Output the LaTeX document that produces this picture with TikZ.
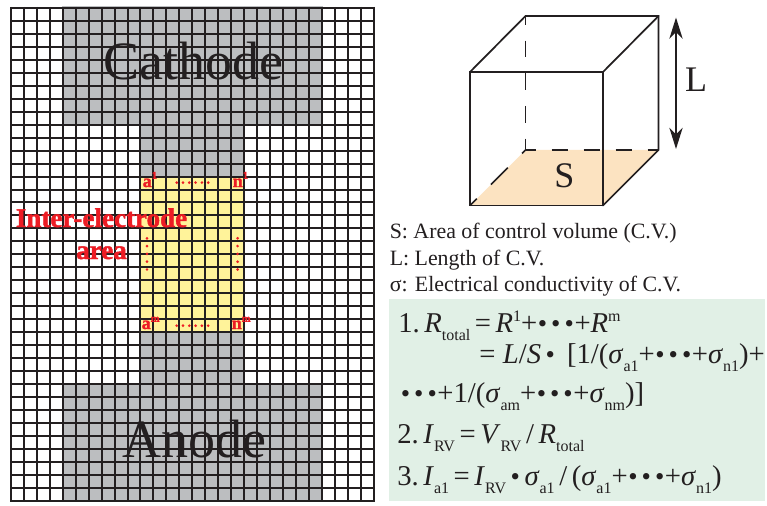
\documentclass[tikz,border=0pt]{standalone}
\usepackage{fontspec}
\setmainfont{Liberation Serif}
\newfontface\heavyface[FakeBold=1.6]{Liberation Serif Bold}
\usetikzlibrary{arrows.meta}
\definecolor{ink}{HTML}{231F20}
\definecolor{elec}{HTML}{BCBEC0}
\definecolor{gapfill}{HTML}{FFF39A}
\definecolor{redt}{HTML}{ED1C24}
\definecolor{sfill}{HTML}{FCE3C1}
\definecolor{panel}{HTML}{E1F0E6}
\newcommand{\fs}[1]{\fontsize{#1}{#1}\selectfont}
\newcommand{\lowsub}[1]{\raisebox{-0.3em}{\fontsize{12}{12}\selectfont\upshape #1}}
\newcommand{\upper}[1]{\raisebox{0.37em}{\fontsize{12}{12}\selectfont\upshape #1}}
\newcommand{\dotbit}{\raisebox{0em}{\fontsize{20}{20}\selectfont\textbullet}}
\newcommand{\tdots}{\hspace{0.02em}\dotbit\hspace{0.14em}\dotbit\hspace{0.14em}\dotbit\hspace{0.02em}}
\newcommand{\tgt}{\hspace{0.16em}}
\tikzset{
 gridline/.style={ink,line width=1.5pt},
 cube/.style={ink,line width=1.3pt,line cap=round},
 cubedash/.style={ink,line width=1.3pt},
 big/.style={text=ink,font=\fs{40.5},inner sep=0pt,anchor=base},
 tag/.style={text=redt,font=\heavyface\fs{13.5},inner sep=0pt,anchor=base west},
 red title/.style={text=redt,font=\heavyface\fs{20.3},inner sep=0pt,anchor=base},
 info/.style={text=ink,font=\fs{16.4},inner sep=0pt,anchor=base west},
 eq/.style={text=ink,font=\fs{21.5},inner sep=0pt,anchor=base west},
 reddot/.style={fill=redt,draw=none,circle,minimum size=2.2pt,inner sep=0pt},
}
\begin{document}
\begin{tikzpicture}[x=0.75pt,y=-0.75pt]
\useasboundingbox (0,0) rectangle (767,506);
\fill[white] (0,0) rectangle (767,506);
% electrodes and gap
\fill[elec] (62,6.5) rectangle (322.5,124);
\fill[elec] (140,124) rectangle (244,384);
\fill[elec] (62,383) rectangle (322.5,500);
\fill[gapfill] (141,177) rectangle (244,332);
% grid: line centres fall on whole pixels so every line prints the same weight
\foreach \i in {0,...,28} {
  \pgfmathsetmacro{\gx}{round(11+\i*12.95)}
  \draw[gridline] (\gx,7) -- (\gx,501);
}
\foreach \j in {0,...,38} {
  \pgfmathsetmacro{\gy}{round(8+\j*12.966)}
  \draw[gridline] (10,\gy) -- (375,\gy);
}
% labels on the grid
\node[big] (cathode) at (193,79.5) {Cathode};
\node[big] (anode) at (194,457) {Anode};
\node[red title] (inter) at (101.5,227) {Inter-electrode};
\node[red title] (area) at (101.5,259) {area};
\node[tag] (a1) at (142.5,187) {a\raisebox{0.45em}{\fs{8}1}};
\node[tag] (n1) at (232.5,187) {n\raisebox{0.45em}{\fs{8}1}};
\node[tag] (am) at (141.5,329) {a\raisebox{0.4em}{\fs{8}m}};
\node[tag] (nm) at (231.5,329) {n\raisebox{0.4em}{\fs{8}m}};
\foreach \k in {0,...,5} {
  \node[reddot] at ({176.7+\k*6.3},182.6) {};
  \node[reddot] at ({176.7+\k*6.3},325.7) {};
}
\foreach \k in {0,...,4} {
  \node[reddot] at (147,{238.3+\k*7.8}) {};
  \node[reddot] at (237.6,{238.3+\k*7.8}) {};
}
% control volume
\coordinate (fa) at (470,72);
\coordinate (fb) at (603,72);
\coordinate (fc) at (603,205.5);
\coordinate (fd) at (470,205.5);
\coordinate (ba) at (525.5,16);
\coordinate (bb) at (658.5,16);
\coordinate (bc) at (658.5,150);
\coordinate (bd) at (525.5,150);
\fill[sfill] (fd) -- (fc) -- (bc) -- (bd) -- cycle;
\draw[cube] (fa) -- (fb) -- (fc) -- (fd) -- cycle;
\draw[cube] (fa) -- (ba) -- (bb) -- (bc) -- (fc);
\draw[cube] (fb) -- (bb);
\draw[cubedash,dash pattern=on 12.5pt off 12pt,dash phase=6pt] (ba) -- (bd);
\draw[cubedash,dash pattern=on 12pt off 12pt,dash phase=4.5pt] (bd) -- (bc);
\draw[cubedash,dash pattern=on 18pt off 15pt,dash phase=14.3pt] (bd) -- (fd);
\coordinate (ltop) at (676,17.5);
\coordinate (lbot) at (676,149);
\draw[ink,line width=1.3pt,{Stealth[length=16pt,width=10pt,inset=5pt]}-{Stealth[length=16pt,width=10pt,inset=5pt]}] (ltop) -- (lbot);
\node[text=ink,font=\fs{27},inner sep=0pt,anchor=base] (ll) at (696,92) {L};
\node[text=ink,font=\fs{27},inner sep=0pt,anchor=base] (ss) at (564.5,188) {S};
% definitions
\node[info] (d1) at (389.5,238) {S: Area of control volume (C.V.)};
\node[info] (d2) at (389.5,265) {L: Length of C.V.};
\node[info] (d3) at (389.5,291) {σ: Electrical conductivity of C.V.};
% equations
\fill[panel] (389,299) rectangle (765,501);
\node[eq] (e1) at (398,332) {1.\tgt\textit{R}\lowsub{total}\tgt=\tgt\textit{R}\upper{1}+\tdots+\textit{R}\upper{m}};
\node[eq] (e2) at (479,363) {=\tgt\hspace{0.1em}\textit{L}/\textit{S}\tgt\dotbit\hspace{0.42em}[1/(\textit{σ}\lowsub{a1}+\tdots+\textit{σ}\lowsub{n1})+};
\node[eq] (e3) at (400,402) {\tdots+1/(\textit{σ}\lowsub{am}+\tdots+\textit{σ}\lowsub{nm})]};
\node[eq] (e4) at (397,443) {2.\tgt\textit{I}\lowsub{RV}\tgt=\tgt\textit{V}\lowsub{RV}\tgt/\tgt\textit{R}\lowsub{total}};
\node[eq] (e5) at (397,485) {3.\tgt\textit{I}\lowsub{a1}\tgt=\tgt\textit{I}\lowsub{RV}\tgt\dotbit\tgt\textit{σ}\lowsub{a1}\tgt/\tgt(\textit{σ}\lowsub{a1}+\tdots+\textit{σ}\lowsub{n1})};
\end{tikzpicture}
\end{document}
